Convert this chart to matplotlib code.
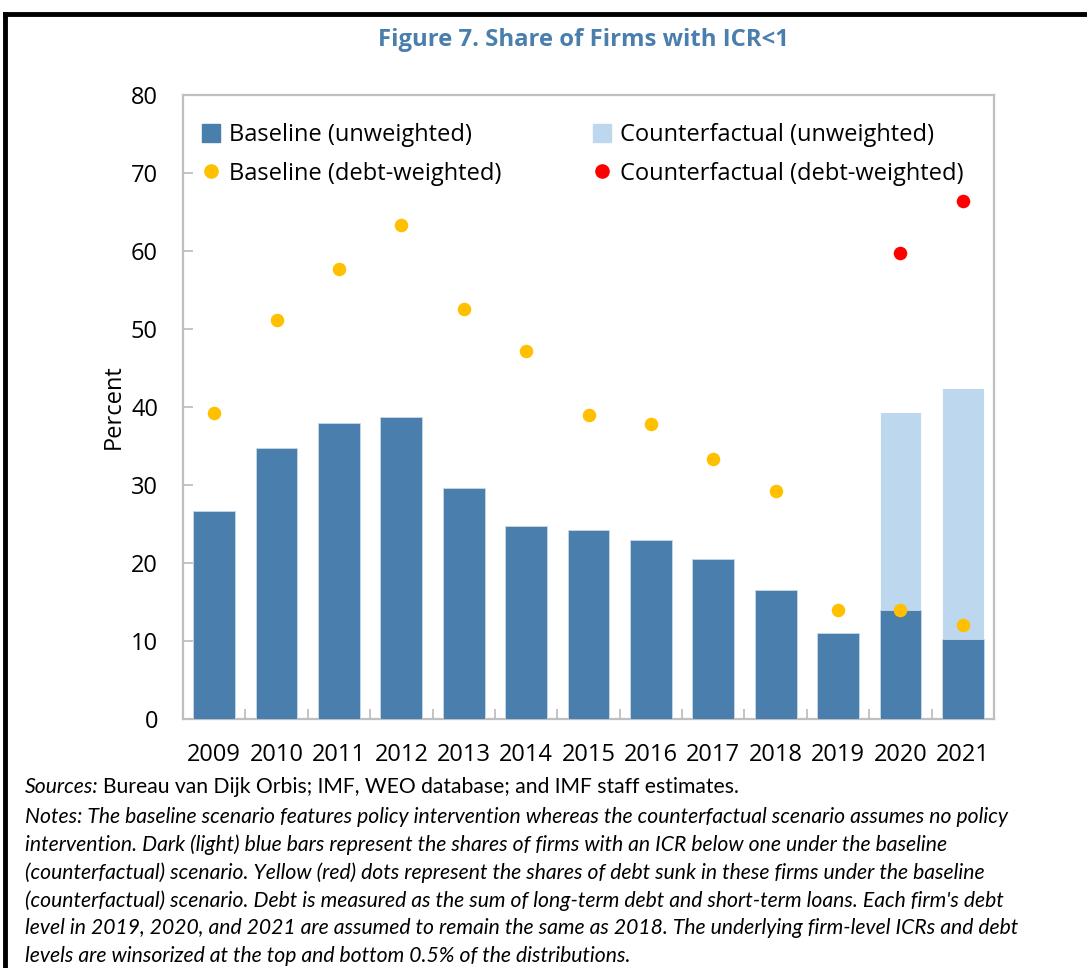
import matplotlib
matplotlib.use('Agg')
import matplotlib.pyplot as plt
import numpy as np
from matplotlib.lines import Line2D
from matplotlib.patches import Patch

years = ['2009', '2010', '2011', '2012', '2013', '2014', '2015',
         '2016', '2017', '2018', '2019', '2020', '2021']
base_unw = [26.7, 34.7, 38.0, 38.7, 29.6, 24.8, 24.2, 23.0, 20.5, 16.6, 11.0, 14.0, 10.3]
cf_unw = [np.nan] * 11 + [39.4, 42.4]
base_dw = [39.2, 51.1, 57.7, 63.3, 52.6, 47.2, 39.0, 37.8, 33.3, 29.2, 14.0, 14.0, 12.1]
cf_dw = [np.nan] * 11 + [59.7, 66.4]

dark = '#4A7FAD'
light = '#BDD7EE'
yellow = '#FFC000'
red = '#FF0000'
grey = '#BFBFBF'

plt.rcParams['font.family'] = ['Open Sans', 'DejaVu Sans']

W, H = 1087, 968
fig = plt.figure(figsize=(W / 100, H / 100), dpi=100)
ax = fig.add_axes([183 / W, 1 - 719 / H, 811 / W, 624 / H])

x = np.arange(len(years))
ax.bar(x, cf_unw, width=0.67, color=light, edgecolor='white', linewidth=0.6, zorder=2)
ax.bar(x, base_unw, width=0.67, color=dark, edgecolor='#C9D9E8', linewidth=0.6, zorder=3)
ax.scatter(x, base_dw, s=95, color=yellow, zorder=4, linewidths=0)
ax.scatter(x, cf_dw, s=95, color=red, zorder=4, linewidths=0)

ax.set_xlim(-0.5, len(years) - 0.5)
ax.set_ylim(0, 80)
ax.set_yticks(range(0, 81, 10))
ax.set_xticks(x)
ax.set_xticklabels(years)
ax.set_xticks(np.arange(0.5, len(years) - 1, 1), minor=True)
ax.tick_params(axis='x', which='major', length=0, pad=17, labelsize=17)
ax.tick_params(axis='x', which='minor', direction='in', length=7, color=grey, width=1.3)
ax.tick_params(axis='y', direction='in', length=7, color=grey, width=1.3, pad=18, labelsize=17)
for s in ax.spines.values():
    s.set_color(grey)
    s.set_linewidth(1.6)
ax.set_ylabel('Percent', fontsize=17, labelpad=4)

handles = [Patch(color=dark),
           Line2D([], [], marker='o', ls='', color=yellow, markersize=9.5),
           Patch(color=light),
           Line2D([], [], marker='o', ls='', color=red, markersize=9.5)]
labels = ['Baseline (unweighted)', 'Baseline (debt-weighted)',
          'Counterfactual (unweighted)', 'Counterfactual (debt-weighted)']
ax.legend(handles, labels, ncol=2, loc='upper left', bbox_to_anchor=(0.0, 0.985),
          frameon=False, fontsize=17, handlelength=0.75, handleheight=0.75,
          handletextpad=0.4, columnspacing=3.88, labelspacing=0.62, borderaxespad=0.4)

fig.text(583 / W, 1 - 40 / H, 'Figure 7. Share of Firms with ICR<1', ha='center', va='center',
         fontsize=17.2, fontweight='bold', color='#4A7FAD')

# notes below the chart
nf = ['Lato', 'DejaVu Sans']
fs = 15.2
fig.canvas.draw()
r = fig.canvas.get_renderer()
t1 = fig.text(25 / W, 1 - 787 / H, 'Sources:', fontsize=fs, style='italic', family=nf, va='center')
bb = t1.get_window_extent(r)
fig.text(bb.x1 / W + 0.004, 1 - 787 / H,
         'Bureau van Dijk Orbis; IMF, WEO database; and IMF staff estimates.',
         fontsize=fs, family=nf, va='center')
notes = ['Notes: The baseline scenario features policy intervention whereas the counterfactual scenario assumes no policy',
         'intervention. Dark (light) blue bars represent the shares of firms with an ICR below one under the baseline',
         '(counterfactual) scenario. Yellow (red) dots represent the shares of debt sunk in these firms under the baseline',
         '(counterfactual) scenario. Debt is measured as the sum of long-term debt and short-term loans. Each firm\'s debt',
         'level in 2019, 2020, and 2021 are assumed to remain the same as 2018. The underlying firm-level ICRs and debt',
         'levels are winsorized at the top and bottom 0.5% of the distributions.']
for i, line in enumerate(notes):
    fig.text(25 / W, 1 - (817 + 27.8 * i) / H, line, fontsize=fs, style='italic',
             family=nf, va='center')

# frame around figure
fig.add_artist(Line2D([5 / W, 1.0], [1 - 14 / H, 1 - 14 / H], color='black', lw=3.5,
                      transform=fig.transFigure))
fig.add_artist(Line2D([5 / W, 5 / W], [0, 1 - 14 / H], color='black', lw=3.5,
                      transform=fig.transFigure))

fig.savefig('out.png', dpi=100)
